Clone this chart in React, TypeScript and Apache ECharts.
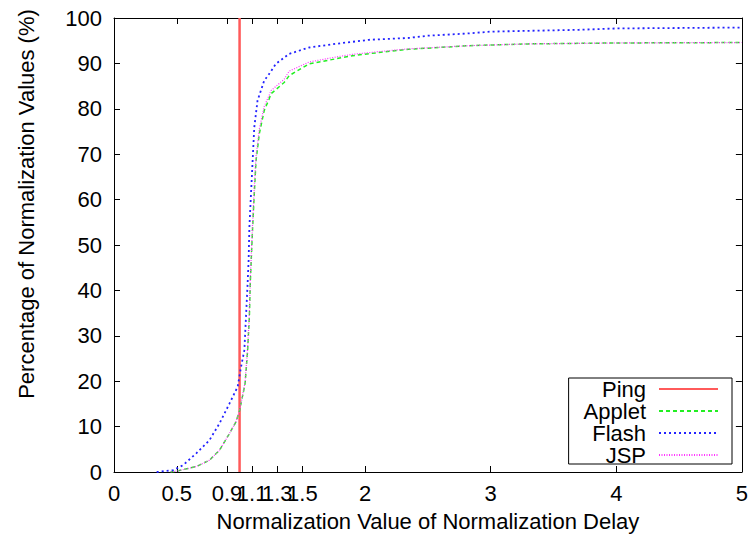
import React, { useEffect, useRef } from "react";
import * as echarts from "echarts";

const xTicks = [0, 0.5, 0.9, 1.1, 1.3, 1.5, 2, 3, 4, 5];

const pingX = [1, 1];
const pingY = [0, 100];

const appletX = [0.45, 0.5, 0.655, 0.76, 0.84, 0.92, 0.97, 1.0, 1.044, 1.064, 1.078, 1.085, 1.096, 1.104, 1.117, 1.131, 1.157, 1.196, 1.236, 1.25, 1.355, 1.395, 1.553, 1.765, 1.9, 2.11, 2.345, 2.82, 3.3, 4.0, 5.0];
const appletY = [0, 0.2, 1.2, 2.6, 4.8, 8.5, 11, 13.5, 19.5, 26.8, 34.2, 41.5, 48.8, 53.9, 61.3, 68.6, 74.5, 79.6, 82.2, 83.3, 85.8, 87.3, 89.9, 91.0, 91.7, 92.4, 93.1, 93.9, 94.3, 94.5, 94.6];

const flashX = [0.34, 0.47, 0.55, 0.655, 0.76, 0.84, 0.92, 0.985, 1.012, 1.038, 1.051, 1.064, 1.072, 1.078, 1.091, 1.104, 1.117, 1.143, 1.196, 1.236, 1.289, 1.395, 1.553, 1.765, 2.03, 2.345, 2.5, 2.82, 3.0, 3.7, 4.0, 5.0];
const flashY = [0, 0.4, 1.5, 4.1, 7.0, 10.7, 15.1, 18.8, 23.2, 26.8, 34.2, 41.5, 46.6, 53.9, 61.3, 68.6, 75.9, 81.8, 86.2, 87.7, 89.9, 92.1, 93.5, 94.3, 95.2, 95.6, 96.1, 96.6, 97.0, 97.4, 97.7, 97.9];

const jspX = [0.45, 0.5, 0.655, 0.76, 0.84, 0.92, 0.97, 1.0, 1.044, 1.064, 1.078, 1.085, 1.096, 1.104, 1.117, 1.131, 1.157, 1.196, 1.236, 1.25, 1.355, 1.395, 1.553, 1.765, 1.9, 2.11, 2.345, 2.82, 3.3, 4.0, 5.0];
const jspY = [0, 0.2, 1.2, 2.6, 4.8, 8.5, 11, 13.5, 19.8, 27.2, 35, 42.5, 49.5, 55, 62.5, 69.5, 75.5, 80.5, 83, 84, 86.5, 88.3, 90.3, 91.4, 92.0, 92.6, 93.2, 93.9, 94.3, 94.5, 94.6];

const zip = (xs: number[], ys: number[]) => xs.map((x, i) => [x, ys[i]]);

const FONT = "'Liberation Sans', Arial, sans-serif";
const FS = 22;

export default function App() {
  const ref = useRef<HTMLDivElement>(null);
  useEffect(() => {
    if (!ref.current) return;
    const chart = echarts.init(ref.current, undefined, { renderer: "svg" });
    const axisLine = { show: true, onZero: false, lineStyle: { color: "#000", width: 1 } };
    const xTick = { show: true, inside: true, length: 6, customValues: xTicks, lineStyle: { color: "#000" } };
    const yTick = { show: true, inside: true, length: 6, lineStyle: { color: "#000" } };
    chart.setOption({
      animation: false,
      backgroundColor: "#fff",
      grid: { left: 114, right: 6, top: 18, bottom: 69 },
      legend: {
        data: ["Ping", "Applet", "Flash", "JSP"],
        orient: "vertical",
        align: "right",
        right: 19,
        top: 378,
        itemWidth: 59,
        itemHeight: 20,
        itemGap: 0,
        padding: [0, 13, -2, 15],
        borderColor: "#000",
        borderWidth: 1,
        borderRadius: 0,
        itemStyle: { color: "transparent", borderWidth: 0, opacity: 0 },
        textStyle: { color: "#000", fontSize: FS, fontFamily: FONT, padding: [0, 8, 0, 0] },
      },
      xAxis: [
        {
          type: "value",
          min: 0,
          max: 5,
          position: "bottom",
          axisLine,
          axisTick: xTick,
          axisLabel: { customValues: xTicks, color: "#000", fontSize: FS, fontFamily: FONT, margin: 10 },
          splitLine: { show: false },
          name: "Normalization Value of Normalization Delay",
          nameLocation: "middle",
          nameGap: 38,
          nameTextStyle: { color: "#000", fontSize: FS, fontFamily: FONT },
        },
        {
          type: "value",
          min: 0,
          max: 5,
          position: "top",
          axisLine,
          axisTick: xTick,
          axisLabel: { show: false },
          splitLine: { show: false },
        },
      ],
      yAxis: [
        {
          type: "value",
          min: 0,
          max: 100,
          interval: 10,
          position: "left",
          axisLine,
          axisTick: yTick,
          axisLabel: { color: "#000", fontSize: FS, fontFamily: FONT, margin: 12 },
          splitLine: { show: false },
        },
        {
          type: "value",
          min: 0,
          max: 100,
          interval: 10,
          position: "right",
          axisLine,
          axisTick: yTick,
          axisLabel: { show: false },
          splitLine: { show: false },
        },
      ],
      graphic: [
        {
          type: "text",
          x: 26,
          y: 204,
          rotation: Math.PI / 2,
          style: {
            text: "Percentage of Normalization Values (%)",
            align: "center",
            verticalAlign: "middle",
            fill: "#000",
            font: `${FS}px ${FONT}`,
          },
        },
      ],
      series: [
        {
          name: "Ping",
          type: "line",
          symbol: "none",
          data: zip(pingX, pingY),
          lineStyle: { color: "#ff5a5a", width: 2.5, type: "solid" },
          itemStyle: { color: "#ff5a5a" },
        },
        {
          name: "Applet",
          type: "line",
          symbol: "none",
          data: zip(appletX, appletY),
          lineStyle: { color: "#22ee22", width: 1.5, type: [4, 3] },
          itemStyle: { color: "#22ee22" },
        },
        {
          name: "Flash",
          type: "line",
          symbol: "none",
          data: zip(flashX, flashY),
          lineStyle: { color: "#2222ff", width: 1.8, type: [2, 3] },
          itemStyle: { color: "#2222ff" },
        },
        {
          name: "JSP",
          type: "line",
          symbol: "none",
          data: zip(jspX, jspY),
          lineStyle: { color: "#ff33ff", width: 1.2, type: [1, 1.5] },
          itemStyle: { color: "#ff33ff" },
        },
      ],
    });
    return () => chart.dispose();
  }, []);
  return <div ref={ref} style={{ position: "absolute", left: 0, top: 0, width: 751, height: 541 }} />;
}
